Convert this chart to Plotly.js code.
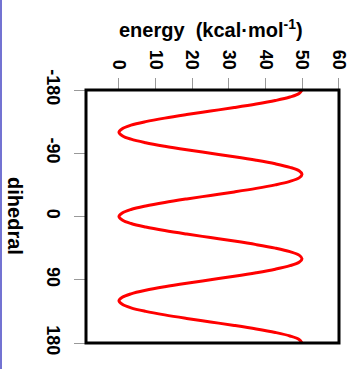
<!DOCTYPE html>
<html>
<head>
<meta charset="utf-8">
<script src="https://cdn.plot.ly/plotly-3.0.1.min.js"></script>
<style>
  html, body { margin: 0; padding: 0; background: #fff; }
  #chart { width: 349px; height: 369px; position: relative; }
  #edge { position: absolute; left: 0; top: 0; width: 2px; height: 369px; background: #7373d2; z-index: 5; }
</style>
</head>
<body>
<div id="chart"></div>
<div id="edge"></div>
<script>
// Values
const dihedral = [-180,-175,-170,-165,-160,-155,-150,-145,-140,-135,-130,-125,
                  -120,-115,-110,-105,-100,-95,-90,-85,-80,-75,-70,-65,
                  -60,-55,-50,-45,-40,-35,-30,-25,-20,-15,-10,-5,
                  0,5,10,15,20,25,30,35,40,45,50,55,
                  60,65,70,75,80,85,90,95,100,105,110,115,
                  120,125,130,135,140,145,150,155,160,165,170,175,180];
const energy = [50,49.2,46.7,42.7,37.5,31.5,25,18.5,12.5,7.3,3.3,0.9,
                0,0.9,3.3,7.3,12.5,18.5,25,31.5,37.5,42.7,46.7,49.2,
                50,49.2,46.7,42.7,37.5,31.5,25,18.5,12.5,7.3,3.3,0.9,
                0,0.9,3.3,7.3,12.5,18.5,25,31.5,37.5,42.7,46.7,49.2,
                50,49.2,46.7,42.7,37.5,31.5,25,18.5,12.5,7.3,3.3,0.9,
                0,0.9,3.3,7.3,12.5,18.5,25,31.5,37.5,42.7,46.7,49.2,50];
const energyTicks = [0,10,20,30,40,50,60];
const dihedralTicks = [-180,-90,0,90,180];

const tickFont = {family: 'Liberation Sans, Arial, sans-serif', size: 18, color: '#000', weight: 'bold'};
const titleFont = {family: 'Liberation Sans, Arial, sans-serif', size: 20, color: '#000', weight: 'bold'};

const trace = {
  x: energy, y: dihedral, type: 'scatter', mode: 'lines',
  line: {color: '#ff0000', width: 3, shape: 'spline', smoothing: 1},
  hoverinfo: 'skip'
};

const layout = {
  width: 349, height: 369,
  margin: {l: 86, r: 10, t: 90, b: 26},
  paper_bgcolor: '#fff', plot_bgcolor: '#fff',
  showlegend: false,
  xaxis: {
    side: 'top', range: [-9, 60.1], tickvals: energyTicks, ticktext: energyTicks.map(String),
    ticks: 'outside', ticklen: 11, tickwidth: 1, tickcolor: '#999',
    tickangle: 90, tickfont: tickFont, ticklabelstandoff: 2,
    ticklabeloverflow: 'allow', automargin: false,
    showgrid: false, zeroline: false, showline: false
  },
  yaxis: {
    range: [180, -180], tickvals: dihedralTicks, ticktext: dihedralTicks.map(String),
    ticks: 'outside', ticklen: 11, tickwidth: 1, tickcolor: '#999',
    tickangle: 90, tickfont: tickFont, ticklabelstandoff: 5,
    automargin: false,
    showgrid: false, zeroline: false, showline: false
  },
  shapes: [{
    type: 'rect', xref: 'paper', yref: 'paper', x0: 0, x1: 1, y0: 0, y1: 1,
    line: {color: '#000', width: 3}, layer: 'above'
  }],
  annotations: [
    {text: 'energy&nbsp; (kcal·mol<sup>-1</sup>)', xref: 'paper', yref: 'paper',
     x: 0.496, y: 1.245, xanchor: 'center', yanchor: 'middle', showarrow: false, font: titleFont},
    {text: 'dihedral', xref: 'paper', yref: 'paper', textangle: 90,
     x: -0.281, y: 0.502, xanchor: 'center', yanchor: 'middle', showarrow: false, font: titleFont}
  ]
};

Plotly.newPlot('chart', [trace], layout, {displayModeBar: false, staticPlot: true});
</script>
</body>
</html>
